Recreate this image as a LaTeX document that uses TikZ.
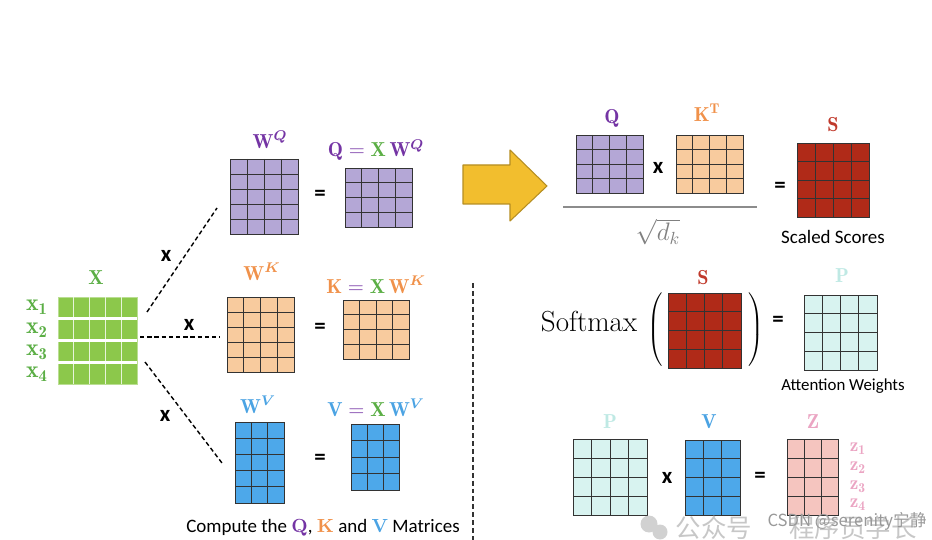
\documentclass[tikz,border=0pt]{standalone}
\usepackage{amsmath,amssymb}
\usepackage{fontspec}
\setsansfont{Carlito}
\newfontfamily\cjk{Noto Sans CJK SC}
\usetikzlibrary{calc}
\definecolor{xgreen}{HTML}{8CC84B}
\definecolor{xgreenlbl}{HTML}{5BAE45}
\definecolor{qfill}{HTML}{B4A7D6}
\definecolor{qlbl}{HTML}{7434A4}
\definecolor{kfill}{HTML}{F8CB9E}
\definecolor{klbl}{HTML}{F0914A}
\definecolor{vfill}{HTML}{4DA8EA}
\definecolor{vlbl}{HTML}{4BA3E3}
\definecolor{sfill}{HTML}{B02A18}
\definecolor{slbl}{HTML}{C0392B}
\definecolor{pfill}{HTML}{D8F3F0}
\definecolor{plbl}{HTML}{BFE9E4}
\definecolor{zfill}{HTML}{F5C5BF}
\definecolor{zlbl}{HTML}{EBA5C3}
\definecolor{arrowyellow}{HTML}{F2BE2E}

% matrice quadrillee : nom, cx, cy, largeur, hauteur, colonnes, lignes, couleur
\newcommand{\gridmat}[8]{%
  \node[matbox, fill=#8, minimum width={#4*0.02cm}, minimum height={#5*0.02cm}] (#1) at (#2,#3) {};
  \foreach \k in {1,...,#6}
    \draw[matline] ($(#1.north west)!\k/#6!(#1.north east)$) -- ($(#1.south west)!\k/#6!(#1.south east)$);
  \foreach \k in {1,...,#7}
    \draw[matline] ($(#1.north west)!\k/#7!(#1.south west)$) -- ($(#1.north east)!\k/#7!(#1.south east)$);
}

\tikzset{
  matline/.style={draw=black!80, line width=0.55pt},
  matbox/.style={matline, rectangle, inner sep=0pt, outer sep=0pt},
  lbl/.style={font=\fontsize{11.5}{13}\selectfont},
  op/.style={font=\sffamily\bfseries\fontsize{13}{14}\selectfont},
  txt/.style={font=\sffamily\fontsize{10.8}{13}\selectfont},
  dashline/.style={line width=0.8pt, dash pattern=on 2.5pt off 1.6pt},
  divider/.style={line width=1.2pt, dash pattern=on 2.8pt off 1.7pt, black!80},
}

\begin{document}
\begin{tikzpicture}[x=0.02cm, y=-0.02cm]
\useasboundingbox (0,0) rectangle (932,540);

% Matrice X
\node[rectangle, inner sep=0pt, fill=xgreen, draw=xgreen!60!white, minimum width={79*0.02cm}, minimum height={87*0.02cm}] (Xm) at (97.5,340.5) {};
\foreach \k in {1,...,4}
  \draw[white!80!xgreen, line width=0.5pt] ($(Xm.north west)!\k/5!(Xm.north east)$) -- ($(Xm.south west)!\k/5!(Xm.south east)$);
\foreach \k in {1,2,3}
  \draw[white, line width=1.5pt] ($(Xm.north west)!\k/4!(Xm.south west)$) -- ($(Xm.north east)!\k/4!(Xm.south east)$);
\node[lbl, text=xgreenlbl] (Xlbl) at (96,278) {$\mathbf{X}$};
\foreach \i/\yy in {1/307,2/330,3/352,4/374}
  \node[text=xgreenlbl, font=\fontsize{13.5}{14}\selectfont] (x\i) at (37,\yy) {$\mathbf{x}_{\mathbf{\i}}$};

% Colonne Q, K, V
\gridmat{WQ}{264}{196.5}{68}{75}{4}{5}{qfill}
\gridmat{Qm}{378.5}{197.5}{67}{59}{4}{4}{qfill}
\gridmat{WK}{260.5}{334.5}{67}{75}{4}{5}{kfill}
\gridmat{Km}{376}{329.5}{66}{59}{4}{4}{kfill}
\gridmat{WV}{259.5}{462.5}{49}{81}{3}{5}{vfill}
\gridmat{Vm}{375}{457}{48}{66}{3}{4}{vfill}

\node[lbl, text=qlbl] (WQlbl) at (270,140) {$\mathbf{W}^{\boldsymbol{Q}}$};
\node[lbl] (Qlbl) at (376,150) {$\color{qlbl}\mathbf{Q}=\color{xgreenlbl}\mathbf{X}\,\color{qlbl}\mathbf{W}^{\boldsymbol{Q}}$};
\node[lbl, text=klbl] (WKlbl) at (262,272) {$\mathbf{W}^{\boldsymbol{K}}$};
\node[lbl] (Klbl) at (376,285) {$\color{klbl}\mathbf{K}\color{qlbl}=\color{xgreenlbl}\mathbf{X}\,\color{klbl}\mathbf{W}^{\boldsymbol{K}}$};
\node[lbl, text=vlbl] (WVlbl) at (258,405) {$\mathbf{W}^{\boldsymbol{V}}$};
\node[lbl] (Vlbl) at (376,408) {$\color{vlbl}\mathbf{V}\color{qlbl}=\color{xgreenlbl}\mathbf{X}\,\color{vlbl}\mathbf{W}^{\boldsymbol{V}}$};

\node[op] (eq1) at (320,195) {=};
\node[op] (eq2) at (320,328) {=};
\node[op] (eq3) at (320,459) {=};

% Liaisons pointillees
\coordinate (xq) at (147,312);
\coordinate (wq) at (217,208);
\coordinate (xk) at (140,337);
\coordinate (wk) at (220,337);
\coordinate (xv) at (145,362);
\coordinate (wv) at (222,463);
\draw[dashline] (xq) -- (wq);
\draw[dashline] (xk) -- (wk);
\draw[dashline] (xv) -- (wv);
\node[op] (m1) at (166,256) {x};
\node[op] (m2) at (189,325) {x};
\node[op] (m3) at (165,416) {x};

\node[txt] (caption) at (323,528) {Compute the {\rmfamily\bfseries\color{qlbl}Q}, {\rmfamily\bfseries\color{klbl}K} and {\rmfamily\bfseries\color{vlbl}V} Matrices};

% Separation
\coordinate (dtop) at (473,283);
\coordinate (dbot) at (473,540);
\draw[divider] (dtop) -- (dbot);

% Fleche jaune
\draw[fill=arrowyellow, draw=arrowyellow!75!black, line width=0.6pt, line join=round]
  (463,165) -- (510,165) -- (510,150) -- (547,186) -- (510,221) -- (510,204) -- (463,204) -- cycle;

% Scores
\gridmat{Qr}{609.5}{164}{67}{58}{4}{4}{qfill}
\gridmat{KT}{709.5}{164}{67}{58}{4}{4}{kfill}
\gridmat{Sm}{833}{180}{72}{74}{4}{4}{sfill}
\node[lbl, text=qlbl] (Qrlbl) at (612,118) {$\mathbf{Q}$};
\node[lbl, text=klbl] (KTlbl) at (707,113) {$\mathbf{K}^{\mathbf{T}}$};
\node[lbl, text=slbl] (Slbl) at (833,125) {$\mathbf{S}$};
\node[op] (m4) at (658,168) {x};
\coordinate (fl) at (563,207);
\coordinate (fr) at (757,207);
\draw[black!45, line width=0.8pt] (fl) -- (fr);
\node[text=black!50, font=\fontsize{14}{16}\selectfont] (sqrtdk) at (658,232) {$\sqrt{d_k}$};
\node[op] (eq4) at (780,187) {=};
\node[txt] (scaled) at (833,237) {Scaled Scores};

% Softmax
\gridmat{S2}{704.5}{330.5}{73}{75}{4}{4}{sfill}
\gridmat{Pm}{840.5}{332.5}{73}{75}{4}{4}{pfill}
\node[inner sep=1pt, font=\fontsize{16.5}{18}\selectfont] (softmax) at (589,322) {Softmax};
\node[inner sep=0pt] (lpar) at (656,330) {$\left(\vrule height 19pt depth 19pt width 0pt\right.$};
\node[inner sep=0pt] (rpar) at (755,330) {$\left.\vrule height 19pt depth 19pt width 0pt\right)$};
\node[lbl, text=slbl] (S2lbl) at (703,278) {$\mathbf{S}$};
\node[lbl, text=plbl] (Plbl) at (842,276) {$\mathbf{P}$};
\node[op] (eq5) at (778,321) {=};
\node[txt, font=\sffamily\fontsize{9.6}{12}\selectfont] (attw) at (843,386) {Attention Weights};

% Sortie Z
\gridmat{P2}{610}{477}{74}{76}{4}{4}{pfill}
\gridmat{V2}{712.5}{477.5}{55}{75}{3}{4}{vfill}
\gridmat{Zm}{812.5}{477}{51}{76}{3}{4}{zfill}
\node[lbl, text=plbl] (P2lbl) at (610,422) {$\mathbf{P}$};
\node[lbl, text=vlbl] (V2lbl) at (709,422) {$\mathbf{V}$};
\node[lbl, text=zlbl] (Zlbl) at (813,422) {$\mathbf{Z}$};
\node[op] (m5) at (667,478) {x};
\node[op] (eq6) at (760,477) {=};
\foreach \i/\yy in {1/449,2/468,3/487,4/505}
  \node[inner sep=1pt, text=zlbl, font=\fontsize{11}{12}\selectfont] (z\i) at (858,\yy) {$\mathbf{z}_{\mathbf{\i}}$};

% Filigrane
\fill[black!18] (649,524) circle (8.5);
\fill[black!18] (660,532) circle (7.5);
\node[inner sep=0pt, text=black!22, font=\cjk\fontsize{14.5}{15}\selectfont] (wm1) at (714,528) {公众号};
\node[inner sep=0pt, text=black!22, font=\cjk\fontsize{14.5}{15}\selectfont] (wm2) at (853,528) {程序员学长};
\node[inner sep=0pt, text=black!40, font=\cjk\fontsize{9.5}{10}\selectfont] (wm3) at (847,521) {CSDN @serenity宁静};
\end{tikzpicture}
\end{document}
